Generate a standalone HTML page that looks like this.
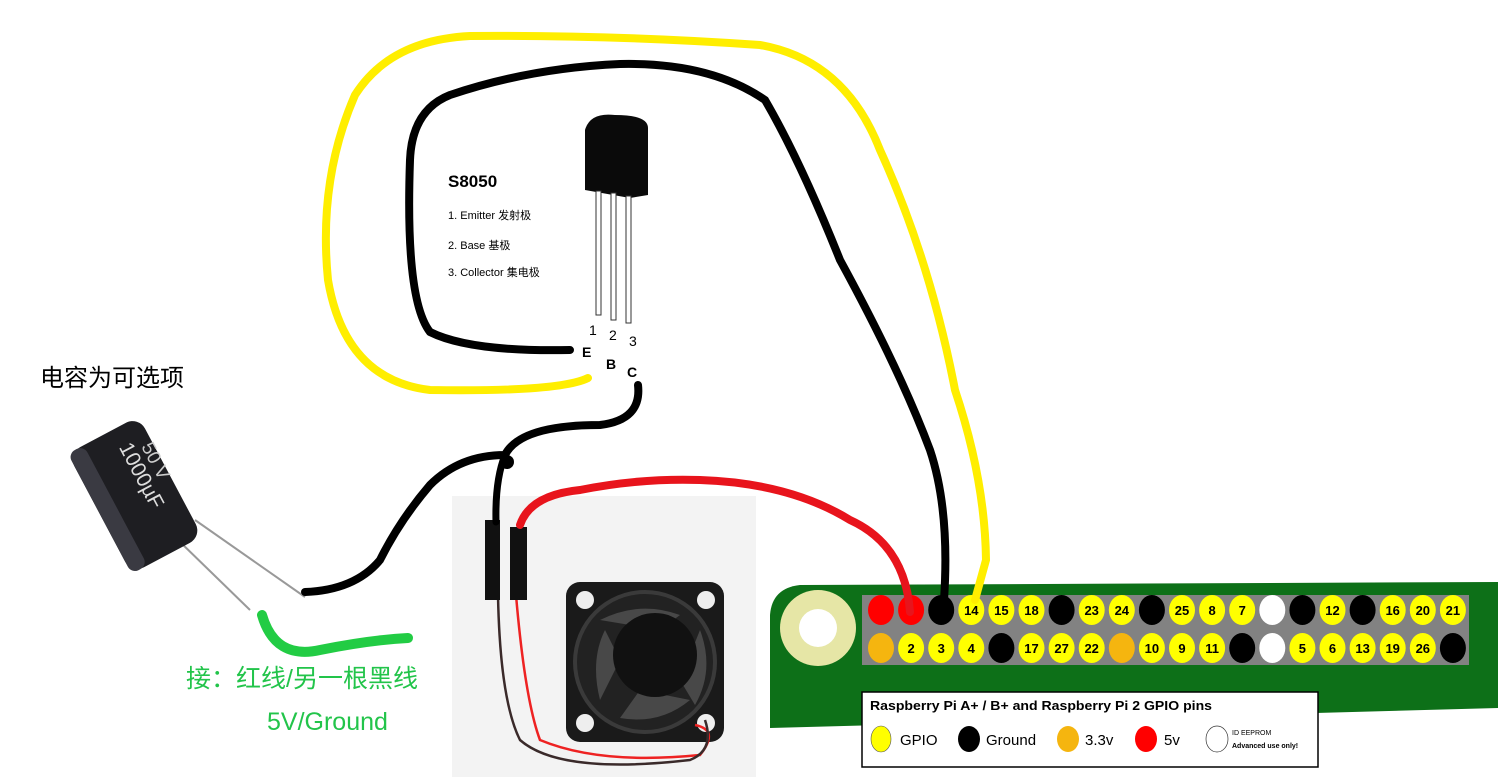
<!DOCTYPE html>
<html><head><meta charset="utf-8"><style>
html,body{margin:0;padding:0;background:#fff;width:1498px;height:777px;overflow:hidden}
svg{display:block}
text{font-family:"Liberation Sans","Noto Sans CJK SC",sans-serif}
</style></head><body>
<svg id="s" width="1498" height="777" viewBox="0 0 1498 777" xmlns="http://www.w3.org/2000/svg">
<rect x="452" y="496" width="304" height="281" fill="#f3f3f3"/>
<path d="M800,585 L1498,582 L1498,708 L770,728 L770,615 Q772,588 800,585 Z" fill="#0d7018"/>
<circle cx="818" cy="628" r="38" fill="#e6e6a6"/>
<circle cx="818" cy="628" r="19" fill="#fff"/>
<rect x="862" y="595" width="607" height="70" fill="#828282"/>
<g id="pins"></g>
<g>
<rect x="862" y="692" width="456" height="75" fill="#fff" stroke="#000" stroke-width="1.5"/>
<text x="870" y="710" font-size="13" font-weight="bold" textLength="342" lengthAdjust="spacingAndGlyphs">Raspberry Pi A+ / B+ and Raspberry Pi 2 GPIO pins</text>
<ellipse cx="881" cy="739" rx="10" ry="13" fill="#ffff00" stroke="#555" stroke-width="0.6"/>
<text x="900" y="745" font-size="15">GPIO</text>
<ellipse cx="969" cy="739" rx="11" ry="13" fill="#000"/>
<text x="986" y="745" font-size="15">Ground</text>
<ellipse cx="1068" cy="739" rx="11" ry="13" fill="#f5b50f"/>
<text x="1085" y="745" font-size="15">3.3v</text>
<ellipse cx="1146" cy="739" rx="11" ry="13" fill="#f00"/>
<text x="1164" y="745" font-size="15">5v</text>
<ellipse cx="1217" cy="739" rx="11" ry="13" fill="#fff" stroke="#333" stroke-width="0.7"/>
<text x="1232" y="735" font-size="7">ID EEPROM</text>
<text x="1232" y="748" font-size="7" font-weight="bold">Advanced use only!</text>
</g>
<g>
<rect x="566" y="582" width="158" height="160" rx="14" fill="#1a1a1a"/>
<circle cx="645" cy="662" r="72" fill="#3a3a3a"/>
<circle cx="645" cy="662" r="68" fill="#222"/>
<path d="M600,620 Q640,600 680,615 L660,630 Z M600,700 Q590,660 605,630 L620,660Z M690,700 Q660,725 620,718 L640,690Z M700,630 Q715,670 695,705 L680,680Z" fill="#484848"/>
<circle cx="655" cy="655" r="42" fill="#111"/>
<circle cx="585" cy="600" r="9" fill="#eee"/><circle cx="706" cy="600" r="9" fill="#eee"/>
<circle cx="585" cy="723" r="9" fill="#eee"/><circle cx="706" cy="723" r="9" fill="#eee"/>
</g>
<path d="M516,595 Q525,700 540,740 Q600,765 700,755 Q720,730 695,725" stroke="#e22" stroke-width="2.5" fill="none"/>
<path d="M498,595 Q500,700 520,740 Q560,775 690,760 Q715,750 705,720" stroke="#3a2a2a" stroke-width="2.5" fill="none"/>
<rect x="485" y="520" width="15" height="80" fill="#111"/>
<rect x="510" y="527" width="17" height="73" fill="#111"/>
<g>
<line x1="195" y1="520" x2="305" y2="597" stroke="#999" stroke-width="2"/>
<line x1="178" y1="540" x2="250" y2="610" stroke="#999" stroke-width="2"/>
<g transform="translate(135,495) rotate(-28)">
<rect x="-40" y="-68" width="80" height="136" rx="14" fill="#1e1e22"/>
<rect x="-40" y="-68" width="18" height="136" rx="8" fill="#3a3a42"/>
<text x="-50" y="-8" font-size="21" fill="#ddd" transform="rotate(90)" font-family="Liberation Serif">1000µF</text>
<text x="-40" y="-28" font-size="19" fill="#ccc" font-family="Liberation Serif" transform="rotate(90)">50 V</text>
</g>
</g>
<g>
<path d="M585,130 Q590,112 615,115 Q648,115 648,128 L648,195 L630,198 L585,190 Z" fill="#0a0a0a"/>
<rect x="596" y="191" width="5" height="124" fill="#fff" stroke="#333"/>
<rect x="611" y="193" width="5" height="127" fill="#fff" stroke="#333"/>
<rect x="626" y="196" width="5" height="127" fill="#fff" stroke="#333"/>
<text x="589" y="335" font-size="14">1</text><text x="609" y="340" font-size="14">2</text><text x="629" y="346" font-size="14">3</text>
<text x="582" y="357" font-size="14" font-weight="bold">E</text><text x="606" y="369" font-size="14" font-weight="bold">B</text><text x="627" y="377" font-size="14" font-weight="bold">C</text>
<text x="448" y="187" font-size="17" font-weight="bold">S8050</text>
<text x="448" y="219" font-size="11">1. Emitter  发射极</text>
<text x="448" y="249" font-size="11">2. Base    基极</text>
<text x="448" y="276" font-size="11">3. Collector 集电极</text>
</g>
<path d="M588,378 Q560,392 430,390 Q345,380 328,280 Q318,180 355,95 Q390,40 470,36 Q620,35 760,45 Q845,60 880,150 Q930,260 955,390 Q985,480 986,560 L975,600" stroke="#ffee00" stroke-width="8" fill="none" stroke-linecap="round"/>
<path d="M570,350 Q470,352 430,332 Q405,300 410,160 Q412,110 450,95 Q530,68 620,64 Q710,62 765,100 Q800,160 840,260 Q900,370 930,450 Q950,510 944,600" stroke="#000" stroke-width="8" fill="none" stroke-linecap="round"/>
<path d="M638,385 Q642,420 600,425 Q520,425 505,455 Q460,455 430,485 Q400,520 380,560 Q355,590 305,592" stroke="#000" stroke-width="8" fill="none" stroke-linecap="round"/>
<path d="M505,455 Q495,480 496,522" stroke="#000" stroke-width="7" fill="none" stroke-linecap="round"/>
<circle cx="507" cy="462" r="7" fill="#000"/>
<path d="M520,525 Q530,495 580,490 Q640,478 700,480 Q790,483 850,520 Q905,545 910,612" stroke="#e8141c" stroke-width="8" fill="none" stroke-linecap="round"/>
<path d="M262,615 Q275,660 320,650 Q370,640 408,638" stroke="#22cc44" stroke-width="10" fill="none" stroke-linecap="round"/>
<text x="40" y="386" font-size="24">电容为可选项</text>
<text x="186" y="687" font-size="25" fill="#22c44a">接：红线/另一根黑线</text>
<text x="267" y="730" font-size="25" fill="#22c44a">5V/Ground</text>
</svg>
<script>
const topRow=["5v","5v","gnd","14","15","18","gnd","23","24","gnd","25","8","7","id","gnd","12","gnd","16","20","21"];
const bottomRow=["3v3","2","3","4","gnd","17","27","22","3v3","10","9","11","gnd","id","5","6","13","19","26","gnd"];
const colors={"5v":"#f00","gnd":"#000","3v3":"#f5b50f","id":"#fff"};
const NS="http://www.w3.org/2000/svg";
const g=document.getElementById("pins");
function px(i){return 881+i*30.1;}
function draw(row,y){
 row.forEach((p,i)=>{
  const e=document.createElementNS(NS,"ellipse");
  e.setAttribute("cx",px(i));e.setAttribute("cy",y);e.setAttribute("rx",13);e.setAttribute("ry",15);
  e.setAttribute("fill",colors[p]||"#ffff00");
  
  
  g.appendChild(e);
  if(!colors[p]){
   const t=document.createElementNS(NS,"text");
   t.setAttribute("x",px(i));t.setAttribute("y",y+5);t.setAttribute("text-anchor","middle");
   t.setAttribute("font-size","13");t.setAttribute("font-weight","bold");t.textContent=p;
   
   
   g.appendChild(t);
  }
 });
}
draw(topRow,610);draw(bottomRow,648);
</script>
</body></html>
